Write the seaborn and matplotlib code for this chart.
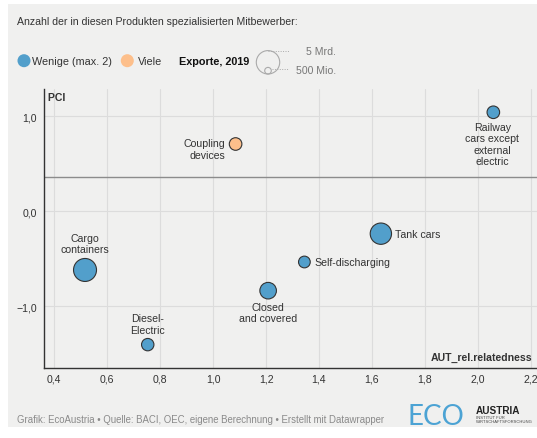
import numpy as np
import pandas as pd
import matplotlib
matplotlib.use("Agg")
import matplotlib.pyplot as plt
import seaborn as sns
from matplotlib.patches import Rectangle, Circle

# Produkte: Verwandtschaft (x), PCI (y), Exporte 2019 in Mrd. (Größe), Mitbewerber
products = ["Cargo\ncontainers", "Diesel-\nElectric", "Coupling\ndevices",
            "Closed\nand covered", "Tank cars", "Self-discharging",
            "Railway\ncars except\nexternal\nelectric"]
relatedness = [0.516, 0.753, 1.085, 1.208, 1.634, 1.345, 2.059]
pci = [-0.618, -1.404, 0.708, -0.836, -0.236, -0.534, 1.042]
exports_bn = [6.2, 1.45, 1.5, 2.6, 4.3, 1.3, 1.5]
competitors = ["Wenige (max. 2)", "Wenige (max. 2)", "Viele", "Wenige (max. 2)",
               "Wenige (max. 2)", "Wenige (max. 2)", "Wenige (max. 2)"]
pci_line = 0.364

x_ticks = [0.4, 0.6, 0.8, 1.0, 1.2, 1.4, 1.6, 1.8, 2.0, 2.2]
y_ticks = [1.0, 0.0, -1.0]

# Label-Versatz in Pixeln (dx, dy nach unten positiv), Ausrichtung
label_pos = [(0, -16, "center", "bottom"), (0, -10, "center", "bottom"),
             (-10, 5, "right", "center"), (0, 11, "center", "top"),
             (14, 0, "left", "center"), (10, 0, "left", "center"),
             (-1, 10, "center", "top")]

df = pd.DataFrame({"product": products, "x": relatedness, "y": pci,
                   "exports": exports_bn, "comp": competitors})

BG = "#f0f0ef"
BLUE = "#529fcb"
ORANGE = "#fdbf8b"
DARK = "#333333"

sns.set_style("white")
plt.rcParams["font.family"] = ["Liberation Sans", "DejaVu Sans"]

W, H = 537, 439
fig = plt.figure(figsize=(W / 100, H / 100), dpi=100)
fig.patch.set_facecolor("white")
fig.add_artist(Rectangle((8 / W, 11 / H), 1, (428 - 5) / H, transform=fig.transFigure,
                         facecolor=BG, edgecolor="none", zorder=-1))

ax = fig.add_axes([44 / W, 1 - 369 / H, (W - 44) / W, (369 - 90) / H])
ax.set_facecolor(BG)
ax.set_xlim(0.361, 2.224)
ax.set_ylim(-1.65, 1.287)

for t in x_ticks:
    ax.axvline(t, color="#dcdcdc", lw=0.8, zorder=0)
for t in y_ticks:
    ax.axhline(t, color="#dcdcdc", lw=0.8, zorder=0)
ax.axhline(pci_line, color="#8c8c8c", lw=1.0, zorder=1)

sns.scatterplot(data=df, x="x", y="y", hue="comp", size="exports",
                palette={"Wenige (max. 2)": BLUE, "Viele": ORANGE},
                sizes=(0, 274), size_norm=(0, 5), edgecolor=DARK, linewidth=0.8,
                alpha=1, legend=False, ax=ax, zorder=3)

for i, row in df.iterrows():
    dx, dy, ha, va = label_pos[i]
    ax.annotate(row["product"], (row["x"], row["y"]),
                xytext=(dx * 0.72, -dy * 0.72), textcoords="offset points",
                ha=ha, va=va, multialignment=ha,
                fontsize=7.6, color=DARK, linespacing=1.15, zorder=4)

ax.set_xticks(x_ticks)
ax.set_xticklabels([f"{t:.1f}".replace(".", ",") for t in x_ticks])
ax.set_yticks(y_ticks)
ax.set_yticklabels([f"{t:.1f}".replace(".", ",").replace("-", "\u2212") for t in y_ticks])
ax.tick_params(length=0, labelsize=7.6, labelcolor=DARK)
ax.tick_params(axis="y", pad=5)
ax.tick_params(axis="x", pad=4)
ax.set_xlabel("")
ax.set_ylabel("")
for s in ["top", "right"]:
    ax.spines[s].set_visible(False)
for s in ["left", "bottom"]:
    ax.spines[s].set_color(DARK)
    ax.spines[s].set_linewidth(1.0)

ax.text(0.003, 0.99, " PCI", transform=ax.transAxes, fontsize=7.6,
        fontweight="bold", color=DARK, va="top", ha="left")
ax.text(0.99, 0.02, "AUT_rel.relatedness", transform=ax.transAxes,
        fontsize=7.6, fontweight="bold", color=DARK, va="bottom", ha="right")

# Overlay in Pixelkoordinaten für Titel, Legende und Fußzeile
ov = fig.add_axes([0, 0, 1, 1])
ov.set_xlim(0, W)
ov.set_ylim(H, 0)
ov.axis("off")
ov.patch.set_alpha(0)

ov.text(17, 22, "Anzahl der in diesen Produkten spezialisierten Mitbewerber:",
        fontsize=7.6, color=DARK, va="center", ha="left")

ov.add_patch(Circle((24, 61.7), 6.5, facecolor=BLUE, edgecolor="none"))
ov.text(32.5, 61.7, "Wenige (max. 2)", fontsize=7.8, color=DARK, va="center")
ov.add_patch(Circle((127.3, 61.7), 6.5, facecolor=ORANGE, edgecolor="none"))
ov.text(137.5, 61.7, "Viele", fontsize=7.8, color=DARK, va="center")
ov.text(179.3, 61.7, "Exporte, 2019", fontsize=7.8, color="#111111",
        fontweight="bold", va="center")

ov.add_patch(Circle((268, 63.3), 11.7, facecolor="none", edgecolor="#aaaaaa", lw=0.8))
ov.add_patch(Circle((268, 71.7), 3.3, facecolor="none", edgecolor="#aaaaaa", lw=0.8))
ov.plot([268, 289], [51.6, 51.6], color="#aaaaaa", lw=0.7, ls=(0, (1, 1.5)))
ov.plot([272, 289], [70.2, 70.2], color="#aaaaaa", lw=0.7, ls=(0, (1, 1.5)))
ov.text(336, 52, "5 Mrd.", fontsize=7.6, color="#777777", va="center", ha="right")
ov.text(336, 70.5, "500 Mio.", fontsize=7.6, color="#777777", va="center", ha="right")

ov.text(17, 420.5, "Grafik: EcoAustria \u2022 Quelle: BACI, OEC, eigene Berechnung "
        "\u2022 Erstellt mit Datawrapper", fontsize=6.9, color="#8a8a8a", va="center")
ov.text(408, 417.5, "ECO", fontsize=20, color="#4ca3d4", va="center", ha="left",
        family=["Lato", "DejaVu Sans"], fontweight="normal")
ov.text(476, 411.3, "AUSTRIA", fontsize=7.2, color="#222222", fontweight="bold",
        va="center", ha="left")
ov.text(476, 418.5, "INSTITUT FÜR", fontsize=3.0, color="#444444", va="center")
ov.text(476, 422.3, "WIRTSCHAFTSFORSCHUNG", fontsize=3.0, color="#444444", va="center")

fig.savefig("out.png", dpi=100, facecolor="white")
